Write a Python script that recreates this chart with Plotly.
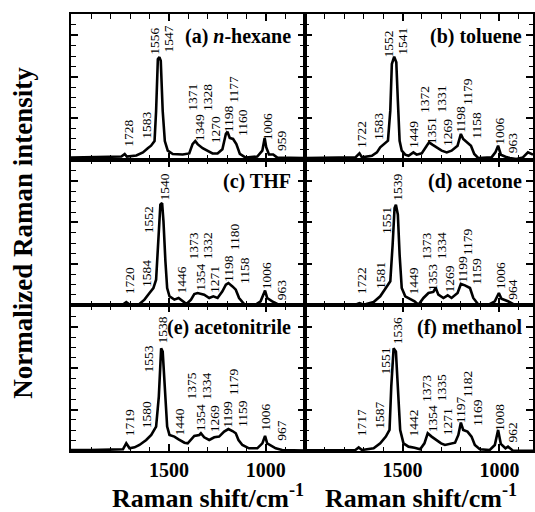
import plotly.graph_objects as go
from plotly.subplots import make_subplots

# ---------------- data (wavenumber cm-1, normalized intensity) ----------------
hexane_wn = [2005,1857,1745,1728,1717,1668,1634,1609,1592,1574,1566,1557,1549,1542,1532,1521,1506,1480,1429,1395,1378,1364,1352,1326,1301,1275,1249,1224,1206,1198,1186,1169,1152,1134,1104,1044,1018,1006,998,984,962,941,804]
hexane_int = [0.02,0.025,0.03,0.055,0.03,0.04,0.07,0.11,0.135,0.18,0.47,0.97,0.99,0.955,0.47,0.18,0.087,0.055,0.05,0.06,0.15,0.18,0.15,0.11,0.087,0.06,0.06,0.10,0.25,0.27,0.21,0.20,0.15,0.055,0.02,0.03,0.087,0.21,0.12,0.05,0.05,0.02,0.015]
hexane_peaks = [1728,1583,1556,1547,1371,1349,1328,1270,1198,1177,1160,1006,959]

toluene_wn = [2003,1983,1812,1743,1722,1709,1658,1632,1615,1592,1575,1563,1555,1543,1532,1524,1515,1504,1486,1469,1444,1427,1401,1375,1363,1346,1324,1298,1272,1247,1216,1199,1187,1165,1147,1130,1110,1041,1021,1007,993,969,947,913,879,853,827]
toluene_int = [0.016,0.016,0.016,0.022,0.061,0.022,0.038,0.07,0.119,0.158,0.183,0.473,0.923,0.994,0.939,0.569,0.183,0.087,0.048,0.038,0.07,0.048,0.061,0.135,0.167,0.145,0.119,0.087,0.07,0.087,0.135,0.248,0.2,0.167,0.135,0.055,0.016,0.022,0.07,0.135,0.048,0.029,0.016,0.006,0.022,0.07,0.048]
toluene_peaks = [1722,1583,1552,1541,1449,1372,1351,1331,1269,1198,1179,1158,1006,963]

thf_wn = [2005,1737,1720,1703,1652,1626,1600,1580,1566,1554,1544,1535,1528,1518,1509,1497,1472,1450,1429,1409,1386,1369,1352,1335,1318,1292,1271,1249,1224,1206,1193,1172,1155,1138,1112,1052,1027,1004,993,967,941,881,798]
thf_int = [0.01,0.008,0.032,0.008,0.013,0.055,0.119,0.167,0.248,0.585,0.972,0.988,0.811,0.425,0.167,0.087,0.055,0.071,0.039,0.013,0.055,0.109,0.119,0.109,0.103,0.071,0.087,0.071,0.135,0.199,0.215,0.183,0.151,0.071,0.013,0.008,0.039,0.142,0.071,0.039,0.013,0.005,0.005]
thf_peaks = [1720,1584,1552,1540,1446,1373,1354,1332,1271,1198,1180,1158,1006,963]

acetone_wn = [2003,1743,1722,1700,1649,1615,1586,1563,1551,1541,1534,1524,1515,1504,1486,1460,1438,1418,1392,1366,1341,1329,1315,1289,1267,1247,1216,1199,1178,1152,1135,1110,1058,1024,1003,990,956,921,827]
acetone_int = [0.005,0.005,0.022,0.005,0.032,0.087,0.167,0.232,0.585,0.939,0.972,0.875,0.489,0.167,0.087,0.064,0.039,0.005,0.071,0.119,0.129,0.167,0.103,0.071,0.097,0.071,0.119,0.206,0.193,0.167,0.071,0.01,0.005,0.039,0.119,0.064,0.039,0.005,0.003]
acetone_peaks = [1722,1581,1551,1539,1449,1373,1353,1334,1269,1199,1179,1159,1006,964]

acetonitrile_wn = [2005,1908,1737,1720,1703,1677,1652,1617,1591,1566,1552,1540,1532,1522,1509,1497,1472,1450,1420,1403,1386,1369,1343,1335,1318,1292,1266,1241,1215,1193,1172,1155,1141,1121,1087,1044,1018,1004,993,970,949,916,813,798]
acetonitrile_int = [0.008,0.008,0.016,0.074,0.026,0.035,0.058,0.106,0.155,0.235,0.525,0.991,0.959,0.621,0.235,0.155,0.139,0.113,0.08,0.074,0.106,0.145,0.155,0.171,0.132,0.106,0.132,0.139,0.187,0.212,0.193,0.171,0.106,0.058,0.026,0.026,0.074,0.145,0.074,0.048,0.026,0.01,0.005,0.005]
acetonitrile_peaks = [1719,1580,1553,1538,1440,1375,1354,1334,1269,1199,1179,1159,1006,967]

methanol_wn = [2003,1812,1743,1726,1709,1649,1615,1586,1567,1558,1546,1534,1524,1512,1495,1469,1438,1409,1387,1370,1350,1324,1301,1281,1255,1229,1212,1199,1187,1165,1144,1127,1101,1050,1024,1007,993,969,956,930,827]
methanol_int = [0.006,0.006,0.01,0.035,0.01,0.026,0.074,0.139,0.203,0.621,0.991,0.959,0.556,0.203,0.074,0.042,0.032,0.016,0.074,0.171,0.139,0.106,0.074,0.058,0.068,0.08,0.155,0.274,0.203,0.187,0.139,0.058,0.016,0.01,0.058,0.203,0.068,0.026,0.042,0.003,0.003]
methanol_peaks = [1717,1587,1551,1536,1442,1373,1354,1335,1271,1197,1182,1169,1008,962]

panel_titles = ["(a) <i>n</i>-hexane", "(b) toluene", "(c) THF", "(d) acetone",
                "(e) acetonitrile", "(f) methanol"]
tick_values = [1000, 1500]
tick_labels = ["1000", "1500"]
x_title = "Raman shift/cm<sup>-1</sup>"
y_title = "Normalized Raman intensity"

# ---------------- layout: label placement (x, bottom y) per panel ----------------
hexane_lpos = [(1706,0.119),(1617,0.19),(1574,1.004),(1501,1.026),(1378,0.463),(1338,0.167),(1304,0.463),(1261,0.145),(1193,0.254),(1167,0.54),(1117,0.215),(994,0.183),(916,0.07)]
toluene_lpos = [(1712,0.103),(1620,0.177),(1575,0.982),(1500,1.004),(1443,0.103),(1387,0.441),(1353,0.135),(1301,0.441),(1267,0.125),(1199,0.254),(1168,0.521),(1120,0.19),(1000,0.135),(935,0.048)]
thf_lpos = [(1706,0.103),(1616,0.167),(1604,0.688),(1522,1.004),(1436,0.103),(1374,0.432),(1335,0.135),(1302,0.432),(1265,0.109),(1193,0.215),(1162,0.521),(1114,0.199),(998,0.142),(919,0.039)]
acetone_lpos = [(1712,0.097),(1617,0.151),(1586,0.682),(1527,0.997),(1442,0.097),(1380,0.432),(1346,0.128),(1301,0.432),(1260,0.109),(1192,0.206),(1165,0.473),(1116,0.193),(997,0.142),(930,0.039)]
acetonitrile_lpos = [(1706,0.138),(1616,0.209),(1604,0.75),(1535,1.023),(1443,0.145),(1384,0.486),(1340,0.186),(1306,0.486),(1265,0.171),(1196,0.219),(1169,0.524),(1117,0.219),(1001,0.186),(919,0.09)]
methanol_lpos = [(1712,0.132),(1620,0.203),(1586,0.733),(1524,1.023),(1442,0.132),(1380,0.467),(1346,0.171),(1301,0.467),(1267,0.145),(1199,0.261),(1165,0.509),(1116,0.235),(1003,0.186),(935,0.074)]

panels = [
    (hexane_wn, hexane_int, hexane_peaks, hexane_lpos, 1, 1),
    (toluene_wn, toluene_int, toluene_peaks, toluene_lpos, 1, 2),
    (thf_wn, thf_int, thf_peaks, thf_lpos, 2, 1),
    (acetone_wn, acetone_int, acetone_peaks, acetone_lpos, 2, 2),
    (acetonitrile_wn, acetonitrile_int, acetonitrile_peaks, acetonitrile_lpos, 3, 1),
    (methanol_wn, methanol_int, methanol_peaks, methanol_lpos, 3, 2),
]

FONT = "Liberation Serif"
W, H = 535, 512
ML, MR, MT, MB = 71, 0, 14, 61

fig = make_subplots(rows=3, cols=2, column_widths=[235, 229],
                    horizontal_spacing=0, vertical_spacing=0)

annotations = []
for i, (wn, inten, peaks, lpos, r, c) in enumerate(panels):
    fig.add_trace(go.Scatter(x=wn, y=inten, mode="lines",
                             line=dict(color="black", width=2.6),
                             showlegend=False, hoverinfo="skip"), row=r, col=c)
    idx = i + 1
    xref = "x" if idx == 1 else f"x{idx}"
    yref = "y" if idx == 1 else f"y{idx}"
    for val, (lx, ly) in zip(peaks, lpos):
        annotations.append(dict(x=lx, y=ly, xref=xref, yref=yref, text=str(val),
                                textangle=-90, showarrow=False, xanchor="center",
                                yanchor="bottom", borderpad=0,
                                font=dict(family=FONT, size=13.5, color="black")))
    annotations.append(dict(x=1, y=1, xref=f"{xref} domain", yref=f"{yref} domain",
                            text=f"<b>{panel_titles[i]}</b>", showarrow=False,
                            xanchor="right", yanchor="middle",
                            xshift=-12 if c == 1 else -9, yshift=-22,
                            font=dict(family=FONT, size=20, color="black")))

x_minor = [v for v in range(800, 2001, 100) if v not in (1000, 1500)]

for r in range(1, 4):
    for c in range(1, 3):
        fig.update_xaxes(row=r, col=c,
                         range=[2005, 798] if c == 1 else [2003, 827],
                         showline=True, linecolor="black", linewidth=2,
                         mirror="ticks", ticks="inside", ticklen=7, tickwidth=1.6,
                         tickcolor="black", tickmode="array", tickvals=tick_values,
                         ticktext=tick_labels, showticklabels=(r == 3),
                         tickfont=dict(family=FONT, size=20, color="black", weight="bold"),
                         ticklabelstandoff=0,
                         minor=dict(ticks="inside", ticklen=4.5, tickwidth=1.3,
                                    tickcolor="black", tickmode="array", tickvals=x_minor),
                         showgrid=False, zeroline=False)
        fig.update_yaxes(row=r, col=c, range=[0, 1.406],
                         showline=True, linecolor="black", linewidth=2,
                         mirror="ticks", ticks="inside", ticklen=7, tickwidth=1.6,
                         tickcolor="black", tickmode="linear", tick0=0, dtick=0.4,
                         showticklabels=False,
                         minor=dict(ticks="inside", ticklen=4.5, tickwidth=1.3,
                                    tickcolor="black", dtick=0.1, tick0=0),
                         showgrid=False, zeroline=False)

pw = W - ML - MR
ph = H - MT - MB
annotations.append(dict(x=(22 - ML) / pw, y=0.5, xref="paper", yref="paper",
                        text=f"<b>{y_title}</b>", textangle=-90, showarrow=False,
                        xanchor="center", yanchor="middle",
                        font=dict(family=FONT, size=27, color="black")))
for cx in (209, 423):
    annotations.append(dict(x=(cx - ML) / pw, y=(H - MB - 496) / ph, xref="paper", yref="paper",
                            text=f"<b>{x_title}</b>", showarrow=False,
                            xanchor="center", yanchor="middle",
                            font=dict(family=FONT, size=26, color="black")))

fig.update_layout(width=W, height=H, margin=dict(l=ML, r=MR, t=MT, b=MB),
                  paper_bgcolor="white", plot_bgcolor="white",
                  annotations=annotations, showlegend=False)

fig.write_html("out.html", include_plotlyjs=True, config={"displayModeBar": False})
